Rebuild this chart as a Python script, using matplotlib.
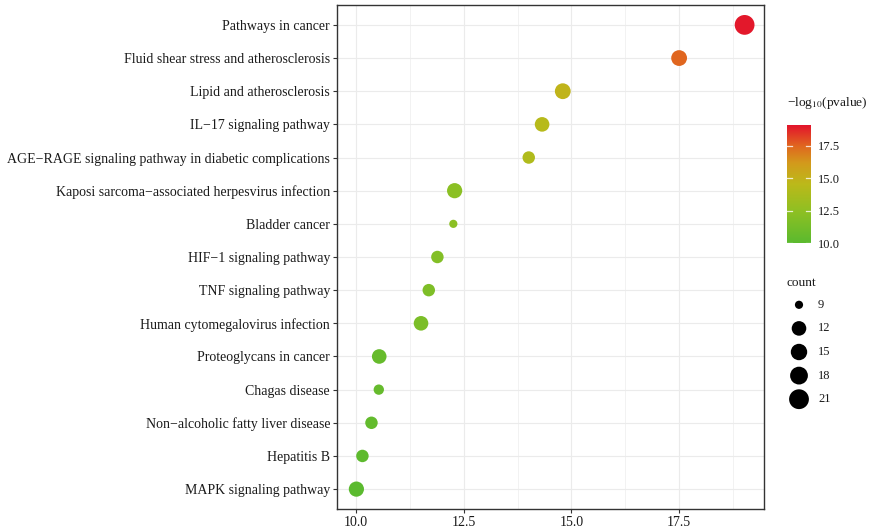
import numpy as np
import matplotlib
matplotlib.use("Agg")
import matplotlib.pyplot as plt
from matplotlib.colors import LinearSegmentedColormap, Normalize

plt.rcParams["font.family"] = ["Liberation Serif", "DejaVu Serif"]
plt.rcParams["mathtext.fontset"] = "stix"

# pathways listed top -> bottom
pathways = [
    "Pathways in cancer",
    "Fluid shear stress and atherosclerosis",
    "Lipid and atherosclerosis",
    "IL\u221217 signaling pathway",
    "AGE\u2212RAGE signaling pathway in diabetic complications",
    "Kaposi sarcoma\u2212associated herpesvirus infection",
    "Bladder cancer",
    "HIF\u22121 signaling pathway",
    "TNF signaling pathway",
    "Human cytomegalovirus infection",
    "Proteoglycans in cancer",
    "Chagas disease",
    "Non\u2212alcoholic fatty liver disease",
    "Hepatitis B",
    "MAPK signaling pathway",
]
neg_log_p = [19.02, 17.50, 14.80, 14.32, 14.01, 12.29, 12.26, 11.89,
             11.69, 11.51, 10.54, 10.53, 10.36, 10.15, 10.01]
counts = [21, 14, 14, 12, 11, 13, 9, 11, 11, 12, 12, 10, 11, 11, 13]

legend_counts = [9, 12, 15, 18, 21]
cbar_ticks = [10.0, 12.5, 15.0, 17.5]

# colour scale, green -> yellow -> red
cmap = LinearSegmentedColormap.from_list("gr", [
    (0.00, "#5bba2f"),
    (0.27, "#8fc023"),
    (0.50, "#bcb91a"),
    (0.68, "#d39a1c"),
    (0.82, "#e0681f"),
    (1.00, "#e3142c"),
])
vmin, vmax = 10.0, 19.1
norm = Normalize(vmin=vmin, vmax=vmax)


def marker_area(c):
    d_px = np.interp(c, [9, 12, 15, 18, 21], [8.2, 14.6, 16.4, 17.8, 19.8])
    d_pt = np.asarray(d_px) * 0.72
    return d_pt ** 2


fig = plt.figure(figsize=(8.7, 5.3), dpi=100)
ax = fig.add_axes([337 / 870, 1 - 509 / 530, 427 / 870, 504 / 530])

n = len(pathways)
ypos = np.arange(n)[::-1] + 1

ax.scatter(neg_log_p, ypos, s=marker_area(np.array(counts)),
           c=neg_log_p, cmap=cmap, norm=norm, edgecolors="none", zorder=3)

ax.set_yticks(ypos)
ax.set_yticklabels(pathways)
ax.set_xticks([10.0, 12.5, 15.0, 17.5])
ax.set_xticklabels(["10.0", "12.5", "15.0", "17.5"])
ax.set_xticks([11.25, 13.75, 16.25, 18.75], minor=True)
ax.set_xlim(9.56, 19.47)
ax.set_ylim(0.4, n + 0.6)
ax.grid(True, which="major", color="#ebebeb", linewidth=0.85, zorder=0)
ax.grid(True, which="minor", axis="x", color="#f0f0f0", linewidth=0.6, zorder=0)
ax.set_axisbelow(True)
ax.tick_params(axis="both", which="major", labelsize=10, colors="#333333",
               length=3, width=0.8, labelcolor="#1a1a1a", pad=2)
ax.tick_params(axis="x", which="minor", length=0)
for sp in ax.spines.values():
    sp.set_color("#333333")
    sp.set_linewidth(1.0)

# colourbar legend
fig.text(787 / 870, 1 - 103 / 530, "\u2212log$_{10}$(pvalue)", fontsize=9.6,
         va="center", ha="left", color="#1a1a1a")
cax = fig.add_axes([787 / 870, 1 - 243 / 530, 24 / 870, 118 / 530])
grad = np.linspace(vmin, vmax, 256).reshape(-1, 1)
cax.imshow(grad, aspect="auto", cmap=cmap, norm=norm, origin="lower",
           extent=[0, 1, vmin, vmax])
cax.set_xlim(0, 1)
cax.set_ylim(vmin, vmax)
cax.set_xticks([])
cax.set_yticks(cbar_ticks)
cax.set_yticklabels([f"{t:.1f}" for t in cbar_ticks])
cax.yaxis.tick_right()
cax.tick_params(axis="y", length=0, labelsize=9, labelcolor="#1a1a1a", pad=5)
for t in cbar_ticks:
    cax.plot([0, 0.2], [t, t], color="white", lw=0.9, alpha=0.8)
    cax.plot([0.8, 1], [t, t], color="white", lw=0.9, alpha=0.8)
for sp in cax.spines.values():
    sp.set_visible(False)

# size legend
fig.text(787 / 870, 1 - 283 / 530, "count", fontsize=9.6, va="center",
         ha="left", color="#1a1a1a")
lax = fig.add_axes([787 / 870, 1 - 411 / 530, 60 / 870, 118 / 530])
lpos = np.arange(len(legend_counts))[::-1]
lax.scatter(np.full(len(legend_counts), 12.0), lpos,
            s=marker_area(np.array(legend_counts)), color="black",
            edgecolors="none", clip_on=False)
for yv, c in zip(lpos, legend_counts):
    lax.text(31, yv, str(c), fontsize=9, va="center", ha="left",
             color="#1a1a1a")
lax.set_xlim(0, 60)
lax.set_ylim(-0.5, len(legend_counts) - 0.5)
lax.axis("off")

fig.savefig("out.png", dpi=100)
